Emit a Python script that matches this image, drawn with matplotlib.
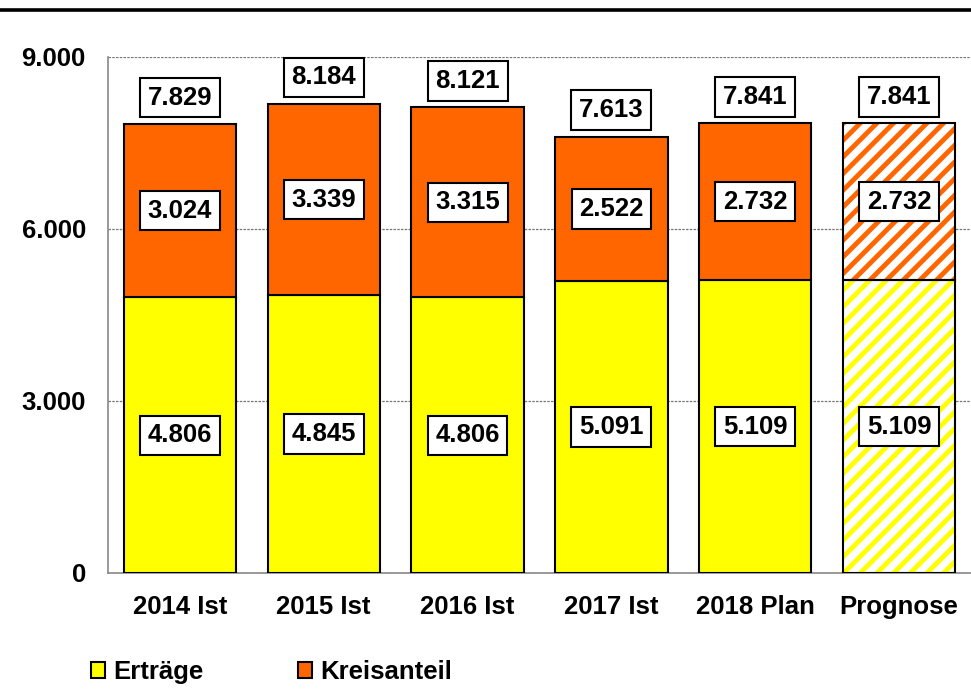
import numpy as np
import matplotlib.pyplot as plt
from matplotlib.patches import Patch
from matplotlib.lines import Line2D

plt.rcParams['font.family'] = ['Liberation Sans', 'DejaVu Sans']
plt.rcParams['font.weight'] = 'bold'
plt.rcParams['hatch.linewidth'] = 3.5

# Data
categories = ['2014 Ist', '2015 Ist', '2016 Ist', '2017 Ist', '2018 Plan', 'Prognose']
ertraege = [4806, 4845, 4806, 5091, 5109, 5109]
kreisanteil = [3024, 3339, 3315, 2522, 2732, 2732]
totals = [7829, 8184, 8121, 7613, 7841, 7841]
prognose = [False, False, False, False, False, True]
yticks = [0, 3000, 6000, 9000]

c_ert = '#FFFF00'
c_kreis = '#FF6600'
fs = 18.5


def fmt(v):
    return '{:,}'.format(v).replace(',', '.')


fig = plt.figure(figsize=(9.71, 6.97), dpi=100)
ax = fig.add_axes([108 / 971, 1 - 573 / 697, 1 - 108 / 971, (573 - 57) / 697])

x = np.arange(len(categories))
w = 0.78
box = dict(boxstyle='square,pad=0.3', fc='white', ec='black', lw=1.5)

for i in x:
    e, k = ertraege[i], kreisanteil[i]
    if prognose[i]:
        # hatched segments: stripes first, black outline on top
        ax.bar(i, e, w, color='white', edgecolor=c_ert, hatch='//', lw=0, zorder=2)
        ax.bar(i, k, w, bottom=e, color='white', edgecolor=c_kreis, hatch='//', lw=0, zorder=2)
        ax.bar(i, e, w, fill=False, edgecolor='black', lw=1.5, zorder=3)
        ax.bar(i, k, w, bottom=e, fill=False, edgecolor='black', lw=1.5, zorder=3)
    else:
        ax.bar(i, e, w, color=c_ert, edgecolor='black', lw=1.5, zorder=3)
        ax.bar(i, k, w, bottom=e, color=c_kreis, edgecolor='black', lw=1.5, zorder=3)
    ax.text(i, e / 2, fmt(e), ha='center', va='center', fontsize=fs,
            fontweight='bold', bbox=box, zorder=5)
    ax.text(i, e + k / 2, fmt(k), ha='center', va='center', fontsize=fs,
            fontweight='bold', bbox=box, zorder=5)
    ax.annotate(fmt(totals[i]), (i, e + k), xytext=(0, 19), textcoords='offset points',
                ha='center', va='center', fontsize=fs, fontweight='bold',
                bbox=box, zorder=5, annotation_clip=False)

ax.set_xlim(-0.5, len(categories) - 0.5)
ax.set_ylim(0, 9000)
ax.set_yticks(yticks)
ax.set_yticklabels([fmt(v) for v in yticks], fontsize=fs, fontweight='bold')
ax.set_xticks(x)
ax.set_xticklabels(categories, fontsize=fs, fontweight='bold')
ax.tick_params(axis='y', length=0, pad=16)
ax.tick_params(axis='x', length=0, pad=16)

for yv in yticks[1:]:
    ax.axhline(yv, color='#777777', lw=0.9, ls=(0, (2, 1)), zorder=1)

for s in ['top', 'right']:
    ax.spines[s].set_visible(False)
for s in ['left', 'bottom']:
    ax.spines[s].set_color('#888888')
    ax.spines[s].set_linewidth(1.2)

# top rule
fig.add_artist(Line2D([0, 1], [1 - 9.5 / 697, 1 - 9.5 / 697], color='black', lw=2.6,
                      transform=fig.transFigure))

handles = [Patch(fc=c_ert, ec='black', lw=1.5), Patch(fc=c_kreis, ec='black', lw=1.5)]
fig.legend(handles, ['Erträge', 'Kreisanteil'], loc='center left',
           bbox_to_anchor=(91 / 971, 1 - 672 / 697), ncol=2, frameon=False,
           prop={'weight': 'bold', 'size': fs},
           handlelength=0.55, handleheight=0.55, handletextpad=0.3,
           columnspacing=3.7, borderpad=0, borderaxespad=0)

fig.savefig('out.png', dpi=100)
